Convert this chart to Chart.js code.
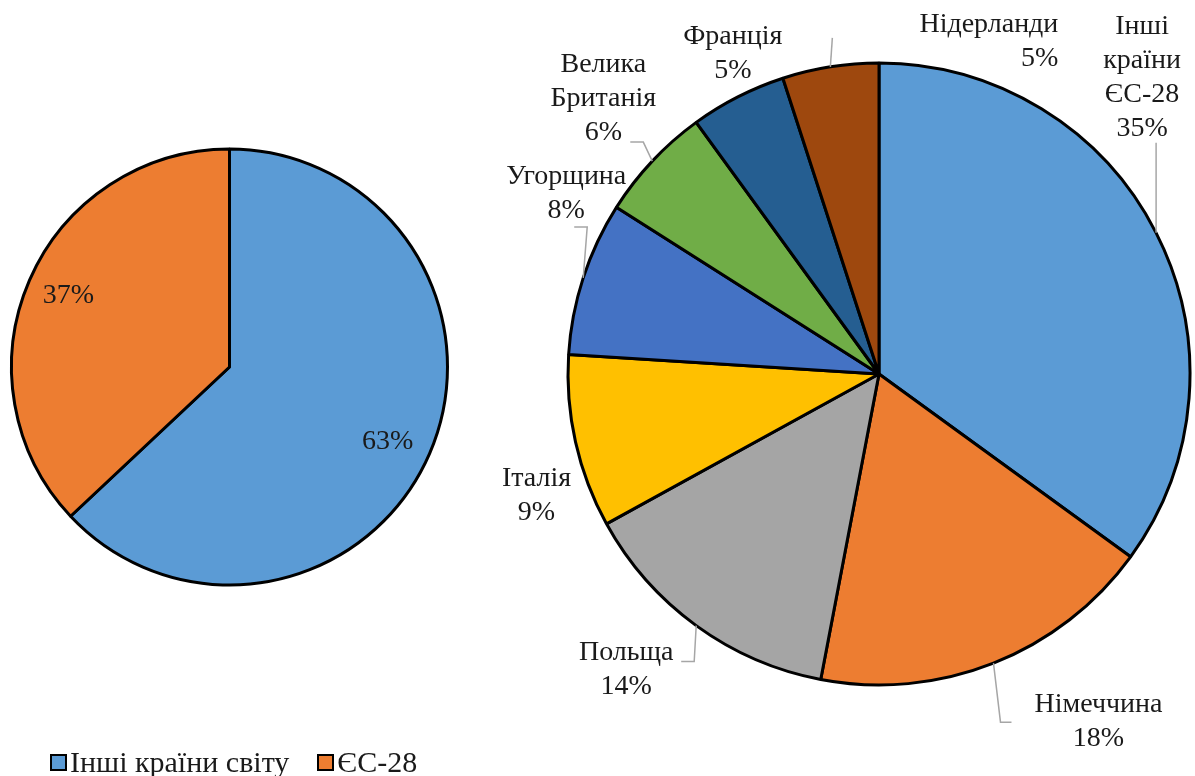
<!DOCTYPE html>
<html>
<head>
<meta charset="utf-8">
<script src="https://cdn.jsdelivr.net/npm/chart.js@4"></script>
<style>
  body { margin: 0; background: #fff; width: 1195px; height: 776px; overflow: hidden; position: relative; }
  canvas { position: absolute; top: 0; }
  #world { left: 0; }
  #eu { left: 460px; }
  #legend { position: absolute; left: 50px; top: 745px; font: 30px 'Liberation Serif', serif; color: #1a1a1a; white-space: nowrap; }
  #legend span.item { margin-right: 28px; }
  #legend i { display: inline-block; width: 13px; height: 13px; border: 2px solid #000; margin-right: 3px; vertical-align: 1px; }
</style>
</head>
<body>
<canvas id="world" width="460" height="776"></canvas>
<canvas id="eu" width="735" height="776"></canvas>
<div id="legend"></div>
<script>
// left pie: share of world
const worldLabels = ['Інші країни світу', 'ЄС-28'];
const worldShares = [63, 37];
const worldColors = ['#5B9BD5', '#ED7D31'];

// right pie: EU-28 breakdown
const euLabels = [['Інші', 'країни', 'ЄС-28'], ['Німеччина'], ['Польща'], ['Італія'], ['Угорщина'], ['Велика', 'Британія'], ['Франція'], ['Нідерланди']];
const euShares = [35, 18, 14, 9, 8, 6, 5, 5];
const euColors = ['#5B9BD5', '#ED7D31', '#A5A5A5', '#FFC000', '#4472C4', '#70AD47', '#255E91', '#9E480E'];

// label placement relative to each slice's outer mid point (style only)
const worldLabelPos = [
  {dx: -42, dy: -12},
  {dx: 39, dy: 15}
];
const euLabelPos = [
  {dx: -14, dy: -155, leader: [[0, -90]]},
  {dx: 105, dy: 58, leader: [[7, 59], [18, 59]]},
  {dx: -70, dy: 44, leader: [[-2, 36], [-15, 36]]},
  {dx: -39, dy: 54},
  {dx: -17, dy: -84, leader: [[4, -51], [-9, -51]]},
  {dx: -49, dy: -62, leader: [[-9, -19], [-22, -19]]},
  {dx: -5, dy: -43},
  {dx: 228, dy: -25, align: 'right', leader: [[2, -29]]}
];

const FONT = "28px 'Liberation Serif'";
const LINE_H = 34;

const sliceLabels = {
  id: 'sliceLabels',
  afterDatasetsDraw(chart, args, opts) {
    const ctx = chart.ctx;
    const meta = chart.getDatasetMeta(0);
    const data = chart.data.datasets[0].data;
    const total = data.reduce((a, b) => a + b, 0);
    ctx.save();
    ctx.font = FONT;
    ctx.fillStyle = '#1a1a1a';
    ctx.textBaseline = 'middle';
    meta.data.forEach((arc, i) => {
      const p = arc.getProps(['x', 'y', 'startAngle', 'endAngle', 'outerRadius'], true);
      const mid = (p.startAngle + p.endAngle) / 2;
      const ox = p.x + p.outerRadius * Math.cos(mid);
      const oy = p.y + p.outerRadius * Math.sin(mid);
      const pos = opts.pos[i];
      if (pos.leader) {
        ctx.strokeStyle = '#A6A6A6';
        ctx.lineWidth = 1.5;
        ctx.beginPath();
        ctx.moveTo(ox, oy);
        pos.leader.forEach(pt => ctx.lineTo(ox + pt[0], oy + pt[1]));
        ctx.stroke();
      }
      const pct = Math.round(data[i] / total * 100) + '%';
      const lines = opts.withNames ? [].concat(chart.data.labels[i], pct) : [pct];
      const cx = ox + pos.dx;
      const top = oy + pos.dy - (lines.length - 1) * LINE_H / 2;
      ctx.textAlign = pos.align === 'right' ? 'right' : 'center';
      lines.forEach((t, k) => ctx.fillText(t, cx, top + k * LINE_H));
    });
    ctx.restore();
  }
};

new Chart('world', {
  type: 'pie',
  data: {
    labels: worldLabels,
    datasets: [{
      data: worldShares,
      backgroundColor: worldColors,
      borderColor: '#000',
      borderWidth: 3
    }]
  },
  options: {
    responsive: false,
    animation: false,
    devicePixelRatio: 1,
    layout: {padding: {left: 10, right: 11, top: 147.5, bottom: 189.5}},
    plugins: {
      legend: {display: false},
      tooltip: {enabled: false},
      sliceLabels: {pos: worldLabelPos, withNames: false}
    }
  },
  plugins: [sliceLabels]
});

new Chart('eu', {
  type: 'pie',
  data: {
    labels: euLabels,
    datasets: [{
      data: euShares,
      backgroundColor: euColors,
      borderColor: '#000',
      borderWidth: 3
    }]
  },
  options: {
    responsive: false,
    animation: false,
    devicePixelRatio: 1,
    layout: {padding: {left: 106.5, right: 3.5, top: 61.5, bottom: 89.5}},
    plugins: {
      legend: {display: false},
      tooltip: {enabled: false},
      sliceLabels: {pos: euLabelPos, withNames: true}
    }
  },
  plugins: [sliceLabels]
});

// legend for the left pie
const legend = document.getElementById('legend');
worldLabels.forEach((name, i) => {
  const item = document.createElement('span');
  item.className = 'item';
  const box = document.createElement('i');
  box.style.background = worldColors[i];
  item.appendChild(box);
  item.appendChild(document.createTextNode(name));
  legend.appendChild(item);
});
</script>
</body>
</html>
